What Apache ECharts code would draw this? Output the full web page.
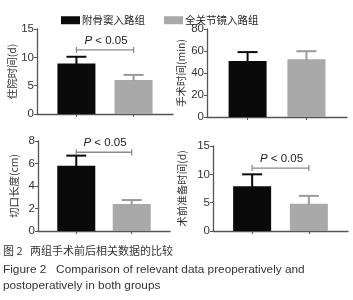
<!DOCTYPE html>
<html>
<head>
<meta charset="utf-8">
<script src="https://cdn.jsdelivr.net/npm/echarts@6/dist/echarts.min.js"></script>
<style>
  html, body { margin: 0; padding: 0; background: #fff; }
  #chart { width: 353px; height: 300px; }
</style>
</head>
<body>
<div id="chart"></div>
<script>
const groups = ['附骨窦入路组', '全关节镜入路组']
const groupColors = ['#0a0a0a', '#a9a9a9']
const whiskerColors = ['#0a0a0a', '#9a9a9a']

// four panels: mean and SD for each group
const panelNames = ['住院时间(d)', '手术时间(min)', '切口长度(cm)', '术前准备时间(d)']
const means = [[8.9, 6.0], [51, 52.5], [5.8, 2.4], [7.9, 4.8]]
const sds = [[1.2, 0.9], [8, 7.3], [0.9, 0.35], [2.1, 1.4]]
const yMax = [15, 80, 8, 15]
const yStep = [5, 20, 2, 5]
// significance bracket height, null = no bracket
const sigLevel = [11.3, null, 7.0, 11.1]

const grids = [
  { left: 37, top: 29, width: 136, height: 85 },
  { left: 207, top: 29, width: 140, height: 88 },
  { left: 38, top: 141, width: 132, height: 90 },
  { left: 213, top: 146, width: 135, height: 85 }
]
const nameGaps = [19, 21, 19, 26]

const axisColor = '#555'

const xAxes = grids.map((g, i) => ({
  gridIndex: i,
  type: 'value',
  min: 0.31,
  max: 2.69,
  axisLine: { show: true, lineStyle: { color: axisColor, width: 1.3 } },
  axisTick: { show: true, customValues: [1, 2], length: 3, lineStyle: { color: axisColor } },
  axisLabel: { show: false },
  splitLine: { show: false }
}))

const yAxes = grids.map((g, i) => ({
  gridIndex: i,
  type: 'value',
  min: 0,
  max: yMax[i],
  interval: yStep[i],
  name: panelNames[i],
  nameLocation: 'middle',
  nameRotate: 90,
  nameGap: nameGaps[i],
  nameTextStyle: { color: '#333', fontSize: 10.5, fontFamily: 'Noto Sans CJK SC' },
  axisLine: { show: true, lineStyle: { color: axisColor, width: 1.3 } },
  axisTick: { show: true, length: 3, lineStyle: { color: axisColor } },
  axisLabel: { color: '#333', fontSize: 11.5, margin: 3, fontFamily: 'Liberation Sans' },
  splitLine: { show: false }
}))

const series = []
grids.forEach((g, i) => {
  groups.forEach((name, k) => {
    series.push({
      name: name,
      type: 'bar',
      xAxisIndex: i,
      yAxisIndex: i,
      barWidth: 38,
      barGap: '-100%',
      itemStyle: { color: groupColors[k] },
      data: [[k + 1, means[i][k]]]
    })
  })
  series.push({
    type: 'custom',
    xAxisIndex: i,
    yAxisIndex: i,
    encode: { x: 0, y: 1 },
    data: means[i].map((m, k) => [k + 1, m, sds[i][k], k]),
    renderItem: function (params, api) {
      const x = api.value(0)
      const m = api.value(1)
      const sd = api.value(2)
      const k = api.value(3)
      const p0 = api.coord([x, m])
      const p1 = api.coord([x, m + sd])
      const st = { stroke: whiskerColors[k], lineWidth: 2 }
      return {
        type: 'group',
        children: [
          { type: 'line', shape: { x1: p0[0], y1: p0[1] + 1, x2: p1[0], y2: p1[1] }, style: st },
          { type: 'line', shape: { x1: p1[0] - 10, y1: p1[1], x2: p1[0] + 10, y2: p1[1] }, style: st }
        ]
      }
    },
    z: 3
  })
  if (sigLevel[i] !== null) {
    series.push({
      type: 'custom',
      xAxisIndex: i,
      yAxisIndex: i,
      encode: { x: 0, y: 1 },
      data: [[1, sigLevel[i], 2]],
      renderItem: function (params, api) {
        const y = api.value(1)
        const a = api.coord([api.value(0), y])
        const b = api.coord([api.value(2), y])
        const st = { stroke: '#8a8a8a', lineWidth: 1.3 }
        return {
          type: 'group',
          children: [
            { type: 'line', shape: { x1: a[0], y1: a[1], x2: b[0], y2: b[1] }, style: st },
            { type: 'line', shape: { x1: a[0], y1: a[1] - 3, x2: a[0], y2: a[1] + 3 }, style: st },
            { type: 'line', shape: { x1: b[0], y1: b[1] - 3, x2: b[0], y2: b[1] + 3 }, style: st },
            {
              type: 'text',
              x: (a[0] + b[0]) / 2 + 1,
              y: a[1] - 9,
              style: {
                text: '{p|P} < 0.05',
                align: 'center',
                verticalAlign: 'middle',
                fill: '#222',
                font: '11.5px Liberation Sans',
                rich: { p: { fontStyle: 'italic', fontSize: 11.5, fontFamily: 'Liberation Sans', fill: '#222' } }
              }
            }
          ]
        }
      },
      z: 4
    })
  }
})

const chart = echarts.init(document.getElementById('chart'))
chart.setOption({
  animation: false,
  legend: {
    data: groups,
    left: 56,
    top: 10,
    itemWidth: 19,
    itemHeight: 8,
    itemGap: 19,
    icon: 'rect',
    textStyle: { color: '#222', fontSize: 10.5, fontFamily: 'Noto Sans CJK SC', padding: [0, 0, 0, -3] }
  },
  grid: grids,
  xAxis: xAxes,
  yAxis: yAxes,
  series: series,
  graphic: [
    { type: 'text', left: 3, top: 245, style: { text: '图 2   两组手术前后相关数据的比较', fill: '#333', font: '11px Noto Sans CJK SC' } },
    { type: 'text', left: 3, top: 264, style: { text: 'Figure 2   Comparison of relevant data preoperatively and', fill: '#333', font: '11.8px Liberation Sans' } },
    { type: 'text', left: 3, top: 280, style: { text: 'postoperatively in both groups', fill: '#333', font: '11.8px Liberation Sans' } }
  ]
})
</script>
</body>
</html>
